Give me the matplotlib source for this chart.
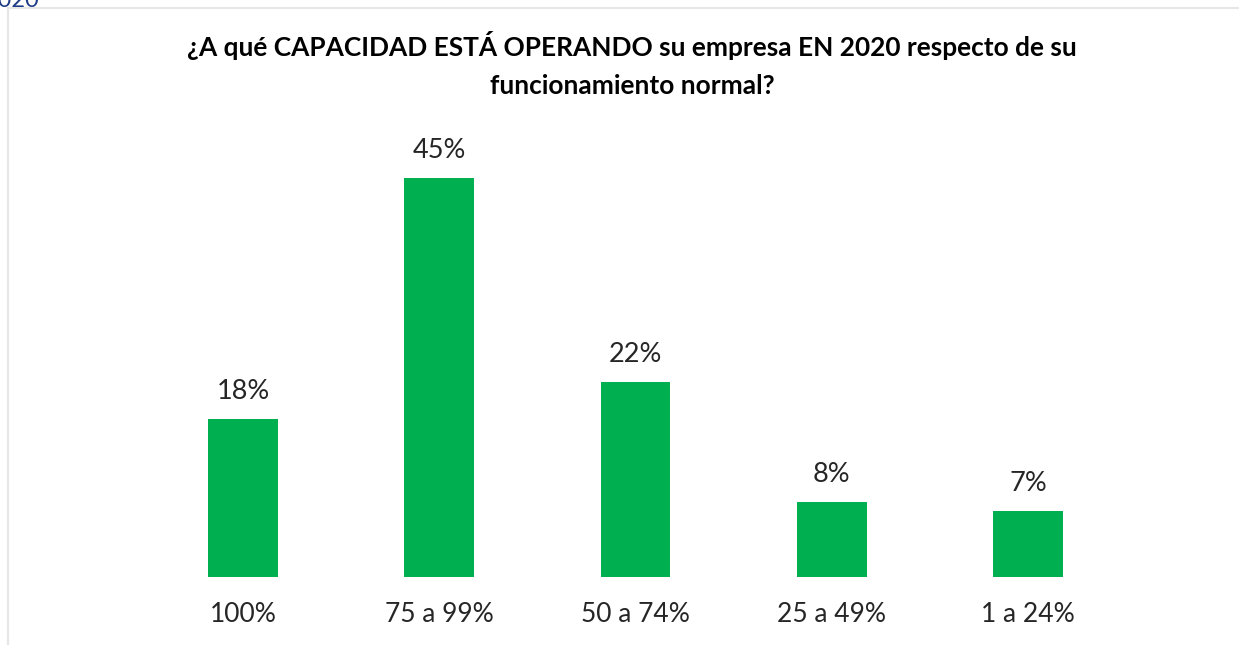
import matplotlib
matplotlib.use("Agg")
import matplotlib.pyplot as plt
from matplotlib.lines import Line2D

categories = ["100%", "75 a 99%", "50 a 74%", "25 a 49%", "1 a 24%"]
values = [17.8, 45, 22, 8.4, 7.4]
value_labels = ["18%", "45%", "22%", "8%", "7%"]
title = "¿A qué CAPACIDAD ESTÁ OPERANDO su empresa EN 2020 respecto de su\nfuncionamiento normal?"

W, H = 1239, 645
fig = plt.figure(figsize=(W / 100, H / 100), dpi=100)
plt.rcParams['font.family'] = ['Lato', 'DejaVu Sans']

# frame lines
fig.add_artist(Line2D([8 / W, 1], [1 - 8 / H, 1 - 8 / H], color="#e6e6e6", lw=1.5, transform=fig.transFigure))
fig.add_artist(Line2D([8 / W, 8 / W], [0, 1 - 8 / H], color="#e6e6e6", lw=1.5, transform=fig.transFigure))
# cropped text at top-left (cut off in the reference as well)
fig.text(40 / W, 1 - 7 / H, "2020", ha="right", va="baseline", color="#1f3c88", fontsize=17)

left = 144.8 / W
right = 1126.2 / W
bottom = (H - 577) / H
top = (H - 133.5) / H
ax = fig.add_axes([left, bottom, right - left, top - bottom])
x = list(range(len(categories)))
ax.bar(x, values, width=0.356, color="#00b050")
for xi, v, lab in zip(x, values, value_labels):
    ax.text(xi, v + 1.7, lab, ha="center", va="bottom", fontsize=19.5, color="#262626")
ax.set_xlim(-0.5, 4.5)
ax.set_ylim(0, 50)
ax.set_xticks(x)
ax.set_xticklabels(categories, fontsize=19, color="#262626")
ax.tick_params(axis="x", length=0, pad=18)
ax.set_yticks([])
for s in ax.spines.values():
    s.set_visible(False)

fig.text(632 / W, 1 - 64.5 / H, title, ha="center", va="center", fontsize=18.9,
         fontweight="bold", color="black", linespacing=1.68)

fig.savefig("out.png", dpi=100)
